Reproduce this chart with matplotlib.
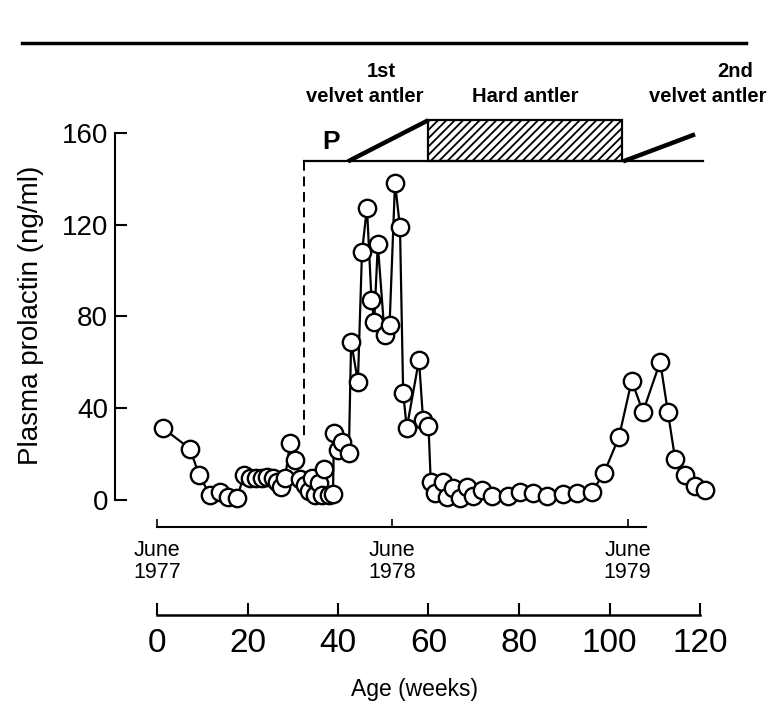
import matplotlib
matplotlib.use("Agg")
import matplotlib.pyplot as plt
from matplotlib.lines import Line2D
from matplotlib.patches import Rectangle

plt.rcParams['font.family'] = ['Liberation Sans', 'DejaVu Sans']
plt.rcParams['hatch.linewidth'] = 1.3

# age in weeks and plasma prolactin (ng/ml)
weeks = [1.3, 7.3, 9.3, 11.7, 13.9, 15.7, 17.7, 19.2, 20.6, 21.9, 23.2, 24.3,
         25.6, 26.5, 27.4, 28.3, 29.4, 30.5, 31.6, 32.7, 33.6, 34.3, 35.0,
         35.8, 36.5, 37.0, 38.0, 38.9, 39.1, 39.9, 40.9, 42.4, 42.9, 44.4,
         45.3, 46.4, 47.4, 48.0, 48.8, 50.3, 51.4, 52.6, 53.7, 54.4, 55.2,
         57.9, 58.8, 60.0, 60.5, 61.4, 63.2, 64.1, 65.4, 67.0, 68.5, 69.8,
         71.8, 74.0, 77.6, 80.2, 83.1, 86.2, 89.7, 92.8, 96.1, 98.8, 102.1,
         104.9, 107.4, 111.2, 112.9, 114.5, 116.7, 118.9, 121.1]
prolactin = [31.4, 22.3, 10.9, 2.2, 3.5, 1.3, 0.8, 10.9, 9.6, 9.6, 9.6, 10.0,
             9.6, 7.9, 5.7, 9.6, 24.7, 17.5, 9.0, 6.6, 4.0, 9.5, 2.2,
             7.5, 2.2, 13.4, 2.2, 2.5, 29.4, 21.8, 25.5, 20.7, 69.0, 51.5,
             108.0, 127.5, 87.3, 77.7, 111.4, 72.0, 76.4, 138.4, 118.8, 46.7, 31.4,
             61.1, 34.9, 32.3, 7.9, 3.1, 7.9, 1.3, 5.2, 0.9, 5.7, 1.7,
             4.4, 1.7, 1.7, 3.5, 3.1, 1.7, 2.6, 3.1, 3.5, 11.8, 27.5,
             52.0, 38.4, 60.3, 38.4, 17.9, 10.9, 6.1, 4.4]

y_ticks = [0, 40, 80, 120, 160]
age_ticks = [0, 20, 40, 60, 80, 100, 120]
date_weeks = [0, 52, 104]
date_labels = ['June\n1977', 'June\n1978', 'June\n1979']

# antler phases (weeks) and the bar level
dashed_week = 32.5
velvet1 = (42.2, 59.9)
hard = (59.9, 102.8)
velvet2 = (103.0, 118.9)
bar_base, bar_top, velvet2_top = 147.6, 165.5, 159.4

fig = plt.figure(figsize=(7.69, 7.05), dpi=100)
W, H = 769, 705
x0_px, px_week = 157, 4.525
y0_px, px_unit = 500, 2.294
xlim = (-9.3, 123.0)
ylim = (-14, 175)

def fx(px):
    return px / W

def fy(px):
    return 1 - px / H

left = x0_px + xlim[0] * px_week
right = x0_px + xlim[1] * px_week
top = y0_px - ylim[1] * px_unit
bottom = y0_px - ylim[0] * px_unit
ax = fig.add_axes([fx(left), fy(bottom), (right - left) / W, (bottom - top) / H])
ax.set_xlim(*xlim)
ax.set_ylim(*ylim)

ax.plot(weeks, prolactin, color='black', lw=1.6, marker='o', ms=12.5,
        mfc='white', mec='black', mew=1.7, clip_on=False, zorder=3)

for s in ['top', 'right']:
    ax.spines[s].set_visible(False)
ax.spines['left'].set_bounds(0, 160)
ax.spines['left'].set_linewidth(1.5)
ax.spines['bottom'].set_position(('data', -11.8))
ax.spines['bottom'].set_bounds(0, 108)
ax.spines['bottom'].set_linewidth(1.5)
ax.set_yticks(y_ticks)
ax.tick_params(axis='y', direction='in', length=8.5, width=1.5, pad=5,
               labelsize=20)
ax.set_xticks(date_weeks)
ax.set_xticklabels(date_labels, fontsize=15.5, linespacing=1.1)
ax.tick_params(axis='x', direction='in', length=6, width=1.2, pad=9)
ax.set_ylabel('Plasma prolactin (ng/ml)', fontsize=20, labelpad=13)

# antler bar on top
ax.plot([dashed_week, dashed_week], [bar_base, 26], color='black', lw=1.4,
        ls=(0, (5, 3)), clip_on=False)
ax.plot([dashed_week, 120.7], [bar_base, bar_base], color='black', lw=1.6,
        clip_on=False)
ax.plot([velvet1[0], velvet1[1]], [bar_base, bar_top], color='black', lw=3.2,
        clip_on=False, solid_capstyle='butt')
ax.plot([velvet2[0], velvet2[1]], [bar_base, velvet2_top], color='black', lw=3.2,
        clip_on=False, solid_capstyle='butt')
ax.add_patch(Rectangle((hard[0], bar_base), hard[1] - hard[0], bar_top - bar_base,
                       facecolor='white', edgecolor='black', hatch='////', lw=1.6,
                       clip_on=False))
lab = dict(fontsize=14.5, fontweight='bold', va='center', clip_on=False)
ax.text(38.5, 156, 'P', fontsize=19, fontweight='bold', ha='center', va='center')
ax.text(49.5, 186.6, '1st', ha='center', **lab)
ax.text(46.0, 175.7, 'velvet antler', ha='center', **lab)
ax.text(81.3, 175.7, 'Hard antler', ha='center', **lab)
ax.text(127.8, 186.6, '2nd', ha='center', **lab)
ax.text(134.6, 175.7, 'velvet antler', ha='right', **lab)

# separate age axis below
age_px = 615
ax2 = fig.add_axes([fx(left), fy(age_px), (right - left) / W, 0.001])
ax2.set_xlim(*xlim)
ax2.set_yticks([])
for s in ['top', 'right', 'left']:
    ax2.spines[s].set_visible(False)
ax2.spines['bottom'].set_bounds(0, 120)
ax2.spines['bottom'].set_linewidth(1.8)
ax2.patch.set_visible(False)
ax2.set_xticks(age_ticks)
ax2.tick_params(axis='x', direction='in', length=8.5, width=1.5, pad=9,
                labelsize=24)
ax2.set_xlabel('Age (weeks)', fontsize=16.5, labelpad=14)

# rule across the top of the figure
fig.add_artist(Line2D([fx(22), fx(746)], [fy(43), fy(43)], color='black', lw=2.5))

fig.savefig('out.png', dpi=100)
